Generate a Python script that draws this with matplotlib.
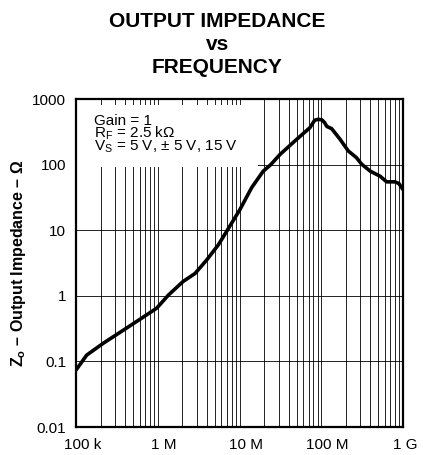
import numpy as np
import matplotlib.pyplot as plt
from matplotlib.patches import Rectangle
from matplotlib.ticker import FixedLocator, NullFormatter
import matplotlib.transforms as mtransforms

plt.rcParams['font.family'] = ['Liberation Sans', 'DejaVu Sans']
plt.rcParams['mathtext.fontset'] = 'custom'
plt.rcParams['mathtext.rm'] = 'Liberation Sans'
plt.rcParams['mathtext.bf'] = 'Liberation Sans:bold'

# Curva (frequência em Hz, impedância em ohms)
freq_hz = [1.0e5, 1.35e5, 2.16e5, 3.79e5, 6.31e5, 9.7e5, 1.35e6, 2.04e6, 2.86e6,
           3.98e6, 5.5e6, 7.08e6, 1.01e7, 1.41e7, 1.95e7, 2.4e7, 3.13e7, 5.01e7,
           7.24e7, 8.32e7, 9.2e7, 1.02e8, 1.10e8, 1.17e8, 1.34e8, 1.70e8, 2.14e8,
           2.69e8, 3.13e8, 3.98e8, 5.25e8, 6.31e8, 7.94e8, 8.9e8, 1.0e9]
z_ohm = [0.074, 0.125, 0.19, 0.30, 0.455, 0.65, 1.03, 1.66, 2.2,
         3.55, 6.0, 10, 20.7, 45, 80, 100, 144, 245,
         367, 480, 495, 485, 440, 385, 357, 245, 163,
         129, 102, 80, 67, 55, 55, 52, 42]

x_ticks = [1e5, 1e6, 1e7, 1e8, 1e9]
x_labels = ['100 k', '1 M', '10 M', '100 M', '1 G']
y_ticks = [0.01, 0.1, 1, 10, 100, 1000]
y_labels = ['0.01', '0.1', '1', '10', '100', '1000']

fig = plt.figure(figsize=(4.23, 4.55), dpi=100)
ax = fig.add_axes([0.1797, 0.0615, 0.773, 0.7203])

ax.set_xscale('log')
ax.set_yscale('log')
ax.set_xlim(1e5, 1e9)
ax.set_ylim(0.01, 1000)

ax.set_xticks(x_ticks)
ax.set_xticklabels(x_labels)
ax.set_yticks(y_ticks)
ax.set_yticklabels(y_labels)
minor_x = [m * 10.0**d for d in range(5, 9) for m in range(2, 10)]
ax.xaxis.set_minor_locator(FixedLocator(minor_x))
ax.xaxis.set_minor_formatter(NullFormatter())
ax.yaxis.set_minor_locator(FixedLocator([]))

ax.tick_params(which='both', length=0, labelsize=11, colors='black')
ax.tick_params(axis='x', pad=8)
ax.tick_params(axis='y', pad=7)

# desloca levemente os rótulos do eixo x como no original
for lbl, dx in zip(ax.get_xticklabels(), [7, 6, 6, 6, 2]):
    lbl.set_transform(lbl.get_transform() +
                      mtransforms.ScaledTranslation(dx / 100, 0, fig.dpi_scale_trans))

ax.grid(True, which='both', axis='x', color='black', lw=0.6, zorder=1)
ax.grid(True, which='major', axis='y', color='black', lw=0.6, zorder=1)

for s in ax.spines.values():
    s.set_linewidth(1.6)

# caixa branca atrás do texto das condições
ax.add_patch(Rectangle((0, 0.793), 0.557, 0.982 - 0.793, transform=ax.transAxes,
                       facecolor='white', edgecolor='none', zorder=2))

ax.plot(freq_hz, z_ohm, color='black', lw=2.6, zorder=3, solid_capstyle='round')

ax.text(0.055, 0.9225, 'Gain = 1', transform=ax.transAxes, fontsize=11,
        va='baseline', zorder=4)
ax.text(0.055, 0.883, r'R$_\mathrm{F}$ = 2.5 kΩ', transform=ax.transAxes, fontsize=11,
        va='baseline', zorder=4)
ax.text(0.055, 0.843, r'V$_\mathrm{S}$ = 5 V, ± 5 V, 15 V', transform=ax.transAxes,
        fontsize=11, va='baseline', zorder=4)

fig.text(18.5 / 423, 1 - 263.5 / 455, r'$\mathbf{Z_o}$ – Output Impedance – Ω',
         rotation=90, ha='center', va='center', fontsize=11.5, fontweight='bold')

fig.text(0.514, 1 - 26.7 / 455, 'OUTPUT IMPEDANCE', ha='center', va='baseline',
         fontsize=15, fontweight='bold')
fig.text(0.514, 1 - 50 / 455, 'vs', ha='center', va='baseline',
         fontsize=15, fontweight='bold')
fig.text(0.514, 1 - 73 / 455, 'FREQUENCY', ha='center', va='baseline',
         fontsize=15, fontweight='bold')

fig.savefig('out.png', dpi=100)
